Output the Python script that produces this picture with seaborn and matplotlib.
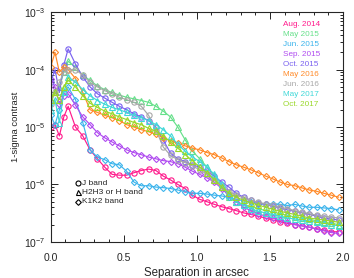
import numpy as np
import pandas as pd
import matplotlib
matplotlib.use("Agg")
import matplotlib.pyplot as plt
from matplotlib.lines import Line2D
from matplotlib.ticker import LogLocator, NullFormatter, MultipleLocator
import seaborn as sns

# separacion en arcsec (comun a todas las series)
sep = [0.0, 0.03, 0.06, 0.09, 0.12, 0.17, 0.22, 0.27, 0.32, 0.37, 0.42, 0.47,
       0.52, 0.57, 0.62, 0.67, 0.72, 0.77, 0.82, 0.87, 0.92, 0.97, 1.02, 1.07,
       1.12, 1.17, 1.22, 1.27, 1.32, 1.37, 1.42, 1.47, 1.52, 1.57, 1.62, 1.67,
       1.72, 1.77, 1.82, 1.87, 1.92, 1.97]

aug2014 = [1.0e-5, 1.1e-5, 7e-6, 1.5e-5, 2.3e-5, 1.0e-5, 7e-6, 4e-6, 2.8e-6, 2.0e-6, 1.5e-6, 1.45e-6,
           1.45e-6, 1.6e-6, 1.75e-6, 1.85e-6, 1.75e-6, 1.4e-6, 1.2e-6, 1.0e-6, 8.5e-7, 6.5e-7, 5.5e-7, 5e-7,
           4.5e-7, 4.1e-7, 3.8e-7, 3.5e-7, 3.2e-7, 3.0e-7, 2.8e-7, 2.6e-7, 2.4e-7, 2.25e-7, 2.1e-7, 2.0e-7,
           1.9e-7, 1.8e-7, 1.7e-7, 1.6e-7, 1.5e-7, 1.5e-7]
may2015 = [3e-5, 4e-5, 5e-5, 9e-5, 1.4e-4, 1.1e-4, 8e-5, 6.5e-5, 5.2e-5, 4.5e-5, 4e-5, 3.6e-5,
           3.3e-5, 3.1e-5, 2.9e-5, 2.7e-5, 2.3e-5, 1.9e-5, 1.5e-5, 1.0e-5, 6e-6, 3.8e-6, 2.8e-6, 2.0e-6,
           1.4e-6, 9e-7, 6e-7, 5e-7, 4.5e-7, 4.1e-7, 3.8e-7, 3.5e-7, 3.3e-7, 3.1e-7, 2.9e-7, 2.7e-7,
           2.6e-7, 2.5e-7, 2.3e-7, 2.2e-7, 2.1e-7, 2.0e-7]
jun2015 = [1.6e-5, 1.1e-5, 2e-5, 4e-5, 5e-5, 3e-5, 1.2e-5, 4e-6, 3.0e-6, 2.7e-6, 2.3e-6, 2.2e-6,
           1.7e-6, 1.1e-6, 9.5e-7, 9.5e-7, 9e-7, 8.8e-7, 8.5e-7, 8e-7, 7.5e-7, 7e-7, 7e-7, 6.8e-7,
           6.5e-7, 6.3e-7, 6e-7, 5.5e-7, 5.2e-7, 5e-7, 4.6e-7, 4.5e-7, 4.6e-7, 4.5e-7, 4.3e-7, 4.5e-7,
           4.2e-7, 4.0e-7, 4.0e-7, 3.9e-7, 3.8e-7, 3.6e-7]
sep2015 = [7e-5, 5e-5, 2.5e-5, 3.5e-5, 3.8e-5, 2.4e-5, 1.5e-5, 1.1e-5, 8e-6, 6.5e-6, 5.5e-6, 4.7e-6,
           4e-6, 3.6e-6, 3.3e-6, 3.0e-6, 2.8e-6, 2.6e-6, 2.5e-6, 2.3e-6, 2.0e-6, 1.7e-6, 1.5e-6, 1.3e-6,
           1.1e-6, 8.5e-7, 6.5e-7, 5e-7, 4e-7, 3.5e-7, 3.1e-7, 2.8e-7, 2.6e-7, 2.4e-7, 2.2e-7, 2.0e-7,
           1.9e-7, 1.8e-7, 1.65e-7, 1.55e-7, 1.45e-7, 1.4e-7]
oct2015 = [6e-5, 1.0e-4, 4e-5, 1.2e-4, 2.3e-4, 1.25e-4, 7.5e-5, 5e-5, 3.8e-5, 3.2e-5, 2.7e-5, 2.3e-5,
           2e-5, 1.7e-5, 1.5e-5, 1.3e-5, 1.0e-5, 6e-6, 3.5e-6, 2.8e-6, 2.5e-6, 2.2e-6, 2.0e-6, 1.7e-6,
           1.4e-6, 1.1e-6, 9e-7, 7e-7, 6e-7, 5.3e-7, 4.8e-7, 4.5e-7, 4.2e-7, 3.9e-7, 3.6e-7, 3.4e-7,
           3.2e-7, 3.0e-7, 2.8e-7, 2.6e-7, 2.5e-7, 2.4e-7]
may2016 = [1.1e-4, 2e-4, 9e-5, 1.1e-4, 1.0e-4, 7e-5, 4e-5, 2e-5, 1.8e-5, 1.6e-5, 1.45e-5, 1.3e-5,
           1.1e-5, 1.0e-5, 9e-6, 8.3e-6, 7.5e-6, 6.5e-6, 5.8e-6, 5.2e-6, 4.7e-6, 4.3e-6, 4.0e-6, 3.6e-6,
           3.3e-6, 2.9e-6, 2.5e-6, 2.2e-6, 2.0e-6, 1.8e-6, 1.6e-6, 1.4e-6, 1.25e-6, 1.1e-6, 1.0e-6, 9.5e-7,
           8.7e-7, 8e-7, 7.6e-7, 7e-7, 6.5e-7, 6e-7]
jun2016 = [2.5e-5, 4e-5, 6e-5, 9e-5, 1.0e-4, 1.0e-4, 8e-5, 6e-5, 5e-5, 4.3e-5, 3.8e-5, 3.3e-5,
           3.0e-5, 2.7e-5, 2.3e-5, 1.6e-5, 9e-6, 4.5e-6, 3.2e-6, 2.7e-6, 2.4e-6, 2.1e-6, 1.8e-6, 1.5e-6,
           1.2e-6, 9.5e-7, 7.5e-7, 6.5e-7, 5.8e-7, 5.3e-7, 4.9e-7, 4.6e-7, 4.3e-7, 4e-7, 3.8e-7, 3.5e-7,
           3.3e-7, 3.1e-7, 2.9e-7, 2.8e-7, 2.7e-7, 2.6e-7]
may2017 = [2e-5, 3e-5, 1.2e-5, 4e-5, 7.5e-5, 6e-5, 4.5e-5, 3.5e-5, 2.9e-5, 2.5e-5, 2.2e-5, 2.0e-5,
           1.8e-5, 1.6e-5, 1.45e-5, 1.3e-5, 1.1e-5, 9e-6, 7e-6, 5e-6, 3.8e-6, 3e-6, 2.5e-6, 2e-6,
           1.5e-6, 1.0e-6, 6.5e-7, 5e-7, 4.3e-7, 3.8e-7, 3.4e-7, 3.2e-7, 3.0e-7, 2.8e-7, 2.6e-7, 2.5e-7,
           2.4e-7, 2.3e-7, 2.2e-7, 2.1e-7, 2.0e-7, 1.9e-7]
oct2017 = [3e-5, 4e-5, 3e-5, 5e-5, 6.5e-5, 5e-5, 3.5e-5, 2.6e-5, 2.2e-5, 1.9e-5, 1.7e-5, 1.5e-5,
           1.35e-5, 1.2e-5, 1.1e-5, 9.5e-6, 8.5e-6, 7e-6, 5.5e-6, 4.3e-6, 3.3e-6, 2.6e-6, 2.0e-6, 1.6e-6,
           1.2e-6, 9e-7, 7e-7, 6e-7, 5.3e-7, 4.8e-7, 4.4e-7, 4.0e-7, 3.7e-7, 3.4e-7, 3.2e-7, 3.0e-7,
           2.8e-7, 2.6e-7, 2.5e-7, 2.4e-7, 2.3e-7, 2.2e-7]

epocas = ["Aug. 2014", "May 2015", "Jun. 2015", "Sep. 2015", "Oct. 2015",
          "May 2016", "Jun. 2016", "May 2017", "Oct. 2017"]
valores = [aug2014, may2015, jun2015, sep2015, oct2015, may2016, jun2016, may2017, oct2017]
colores = ["#ff1a8c", "#66e08a", "#3cb4ec", "#b04cf0", "#7a62f0",
           "#ff8a28", "#a8a8a8", "#40d8d8", "#9ad82a"]
marcadores = ["o", "^", "D", "D", "o", "D", "o", "^", "^"]
bandas = ["J band", "H2H3 or H band", "K1K2 band"]

sns.set_style("ticks")
plt.rcParams['font.family'] = ['Liberation Sans', 'DejaVu Sans']

fig = plt.figure(figsize=(3.54, 2.78), dpi=100)
ax = fig.add_axes([0.143, 0.130, 0.826, 0.826])

for nombre, vals, col, mk in zip(epocas, valores, colores, marcadores):
    df = pd.DataFrame({"sep": sep, "c": vals})
    sns.lineplot(data=df, x="sep", y="c", ax=ax, color=col, lw=0.85,
                 marker=mk, markersize=3.8 if mk != "D" else 3.1,
                 markerfacecolor="none", markeredgecolor=col, markeredgewidth=0.8)

ax.set_yscale("log")
ax.set_xlim(0, 2.0)
ax.set_ylim(1e-7, 1e-3)
ax.xaxis.set_major_locator(MultipleLocator(0.5))
ax.xaxis.set_minor_locator(MultipleLocator(0.1))
ax.yaxis.set_minor_locator(LogLocator(base=10, subs=np.arange(2, 10)))
ax.yaxis.set_minor_formatter(NullFormatter())
ax.xaxis.set_major_formatter(matplotlib.ticker.FormatStrFormatter("%.1f"))
ax.tick_params(which="both", direction="in", top=True, right=True, labelsize=7.5,
               width=0.6, color="black")
ax.tick_params(which="major", length=5)
ax.tick_params(axis="x", which="major", pad=8)
ax.tick_params(which="minor", length=2.5)
for s in ax.spines.values():
    s.set_linewidth(0.8)

ax.set_xlabel("Separation in arcsec", fontsize=8.3, labelpad=3)
ax.set_ylabel("1-sigma contrast", fontsize=6.8, labelpad=3)

# leyenda de epocas en texto de color
for i, (nombre, col) in enumerate(zip(epocas, colores)):
    ax.text(0.795, 0.945 - i * 0.0435, nombre, color=col, fontsize=5.9,
            transform=ax.transAxes, ha="left", va="center")

# leyenda de bandas
for i, (b, mk) in enumerate(zip(bandas, ["o", "^", "D"])):
    yy = 0.255 - i * 0.040
    ax.add_line(Line2D([0.094], [yy], transform=ax.transAxes, marker=mk,
                       markersize=3.6 if mk != "D" else 2.9, markerfacecolor="none",
                       markeredgecolor="black", markeredgewidth=0.8, linestyle="none"))
    ax.text(0.108, yy, b, fontsize=6.0, transform=ax.transAxes, ha="left", va="center")

fig.savefig("out.png", dpi=100)
plt.close(fig)
